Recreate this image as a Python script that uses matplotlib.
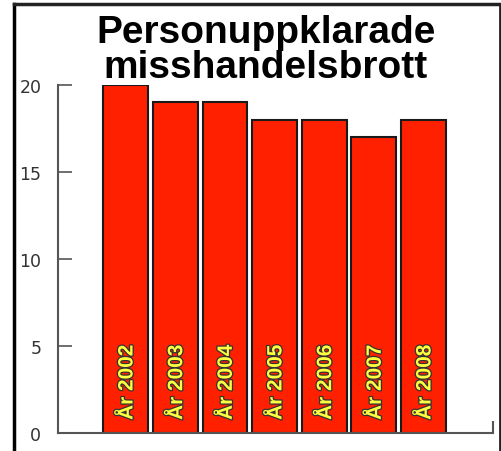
import matplotlib.pyplot as plt
import matplotlib.patheffects as pe

# data
years = ["2002", "2003", "2004", "2005", "2006", "2007", "2008"]
cases = [20, 19, 19, 18, 18, 17, 18]
yticks = [0, 5, 10, 15, 20]

W, H = 502, 452
fig = plt.figure(figsize=(W / 100, H / 100), dpi=100)

# outer frame (top, left, right only)
fig.add_artist(plt.Line2D([14.5 / W, 14.5 / W], [0, 1 - 4.5 / H], transform=fig.transFigure,
                          color="black", lw=2.5))
fig.add_artist(plt.Line2D([14.5 / W, 500.5 / W], [1 - 4.5 / H, 1 - 4.5 / H],
                          transform=fig.transFigure, color="#222222", lw=2.5))
fig.add_artist(plt.Line2D([500.5 / W, 500.5 / W], [0, 1 - 4.5 / H], transform=fig.transFigure,
                          color="#222222", lw=2))

ax = fig.add_axes([58 / W, (H - 434) / H, (493 - 58) / W, (434 - 86) / H])
x = list(range(len(years)))
ax.bar(x, cases, width=0.9, color="#ff2000", edgecolor="#1a1a1a", linewidth=1.5)

for xi, yr in zip(x, years):
    ax.text(xi + 0.03, 0.75, "År " + yr, rotation=90, ha="center", va="bottom",
            fontsize=15, fontweight="bold", family="Liberation Sans", color="#ffff40",
            path_effects=[pe.withStroke(linewidth=1.8, foreground="#333333")])

ax.set_xlim(-1.36, 7.4)
ax.set_ylim(0, 20)
ax.set_yticks(yticks)
ax.set_xticks([7.4])
ax.set_xticklabels([""])
ax.tick_params(axis="y", direction="in", length=10, width=1.2, color="#555555",
               labelsize=12.5, labelcolor="#333333", pad=12)
ax.tick_params(axis="x", direction="in", length=9, width=1.5, color="#555555")
for s in ["top", "right"]:
    ax.spines[s].set_visible(False)
for s in ["left", "bottom"]:
    ax.spines[s].set_color("#555555")
    ax.spines[s].set_linewidth(1.5)

fig.text(266 / W, 1 - 15 / H, "Personuppklarade\nmisshandelsbrott", ha="center", va="top",
         fontsize=28, fontweight="bold", family="Liberation Sans", linespacing=0.95)

fig.savefig("out.png", dpi=100)
